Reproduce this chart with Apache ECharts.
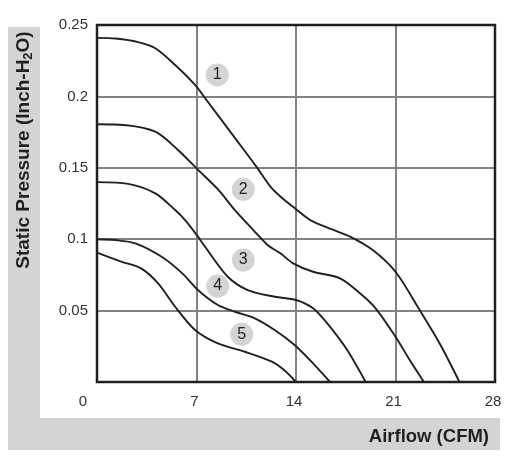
<!DOCTYPE html>
<html>
<head>
<meta charset="utf-8">
<script src="https://cdn.jsdelivr.net/npm/echarts@6/dist/echarts.min.js"></script>
<style>html,body{margin:0;padding:0;background:#fff;}#c{width:507px;height:464px;}</style>
</head>
<body>
<div id="c"></div>
<script>
// Tick labels
const xTickLabels = ['0', '7', '14', '21', '28'];
const yTickLabels = ['', '0.05', '0.1', '0.15', '0.2', '0.25'];

// Curves: [Airflow (CFM), Static Pressure (Inch-H2O)]
const curve1 = [[0,0.241],[1.3,0.2405],[2.9,0.238],[4.1,0.2337],[5.5,0.222],[6.9,0.208],[7.7,0.1975],[9.7,0.171],[11.2,0.151],[12.2,0.1368],[13.0,0.129],[14.0,0.121],[15.0,0.1134],[16.5,0.107],[17.8,0.1018],[19.4,0.0924],[21.0,0.0772],[22.7,0.0504],[24.1,0.0271],[25.5,0]];
const curve2 = [[0,0.1805],[1.9,0.18],[4.1,0.1753],[5.7,0.1625],[7.0,0.1496],[8.5,0.135],[9.7,0.1204],[11.0,0.1064],[12.0,0.096],[12.9,0.0901],[13.8,0.0831],[15.2,0.0772],[17.1,0.0726],[18.5,0.0621],[19.6,0.0516],[21.0,0.0317],[22.0,0.0154],[23.0,0]];
const curve3 = [[0,0.14],[2.2,0.1387],[4.1,0.1321],[5.5,0.1204],[6.2,0.1134],[7.1,0.1018],[7.6,0.0947],[9.2,0.0737],[10.6,0.0644],[12.5,0.0597],[14.0,0.0574],[15.2,0.0516],[16.2,0.041],[17.6,0.0224],[18.9,0]];
const curve4 = [[0,0.1],[1.3,0.0994],[2.7,0.0971],[4.55,0.0877],[6.0,0.0761],[7.1,0.0644],[8.5,0.0539],[9.7,0.0492],[11.1,0.0446],[12.5,0.0364],[13.9,0.0259],[15.2,0.0131],[16.4,0]];
const curve5 = [[0,0.0906],[1.7,0.0843],[3.1,0.0796],[4.3,0.0691],[5.5,0.0527],[6.9,0.0364],[8.5,0.027],[10.4,0.0212],[12.3,0.0142],[13.2,0.008],[14.0,0]];

// Curve number badges
const badgeNames = ['1', '2', '3', '4', '5'];
const badgePos = [[8.46,0.215],[10.29,0.1349],[10.29,0.0854],[8.49,0.0672],[10.18,0.0334]];

const curves = [curve1, curve2, curve3, curve4, curve5];
const FONT = '"Liberation Sans", Arial, sans-serif';

const chart = echarts.init(document.getElementById('c'), null, {renderer: 'canvas'});
const lineSeries = curves.map((d, i) => ({
  type: 'line', name: 'Curve ' + badgeNames[i], data: d, smooth: 0.3,
  showSymbol: false, symbol: 'none', z: 3,
  lineStyle: {color: '#231f20', width: 1.9}
}));

const option = {
  animation: false,
  backgroundColor: '#ffffff',
  graphic: [
    {type: 'rect', shape: {x: 8, y: 27, width: 32, height: 423}, style: {fill: '#d3d4d6'}, z: -10},
    {type: 'rect', shape: {x: 8, y: 418, width: 492, height: 32}, style: {fill: '#d3d4d6'}, z: -10},
    {type: 'text', x: 24, y: 150, rotation: Math.PI / 2,
      style: {text: 'Static Pressure (Inch-H{s|2}O)', font: 'bold 19px ' + FONT, fill: '#231f20',
        align: 'center', verticalAlign: 'middle',
        rich: {s: {font: 'bold 13px ' + FONT, fill: '#231f20', padding: [9, 0, 0, 0]}}}},
    {type: 'text', x: 489, y: 437,
      style: {text: 'Airflow (CFM)', font: 'bold 18.5px ' + FONT, fill: '#231f20',
        align: 'right', verticalAlign: 'middle'}}
  ],
  grid: {left: 97, top: 25, right: 12, bottom: 82, show: true, borderColor: '#231f20', borderWidth: 2.5, backgroundColor: 'transparent', z: 4},
  xAxis: {
    type: 'value', min: 0, max: 28, interval: 7,
    axisLine: {show: false}, axisTick: {show: false},
    splitLine: {show: true, showMinLine: false, showMaxLine: false, lineStyle: {color: '#808285', width: 2}},
    axisLabel: {
      margin: 12, color: '#333333', fontSize: 15, fontFamily: FONT,
      formatter: function (v, i) { return i === 0 ? '{z|' + xTickLabels[0] + '}' : '{n|' + xTickLabels[i] + '}'; },
      rich: {
        z: {fontSize: 15, color: '#333333', padding: [0, 28, 0, 0], fontFamily: FONT},
        n: {fontSize: 15, color: '#333333', padding: [0, 4, 0, 0], fontFamily: FONT}
      }
    }
  },
  yAxis: {
    type: 'value', min: 0, max: 0.25, interval: 0.05,
    axisLine: {show: false}, axisTick: {show: false},
    splitLine: {show: true, showMinLine: false, showMaxLine: false, lineStyle: {color: '#808285', width: 2}},
    axisLabel: {
      margin: 9, color: '#333333', fontSize: 15, fontFamily: FONT,
      formatter: function (v, i) { return yTickLabels[i]; }
    }
  },
  series: lineSeries.concat([{
    type: 'scatter', name: 'badges', z: 5,
    data: badgePos.map((p, i) => ({value: p, name: badgeNames[i]})),
    symbol: 'circle', symbolSize: 23,
    itemStyle: {color: '#d3d4d6', opacity: 1},
    label: {show: true, position: 'inside', formatter: '{b}', color: '#231f20', fontSize: 16, fontFamily: FONT,
      textBorderWidth: 0, textBorderColor: 'transparent', opacity: 1}
  }])
};
chart.setOption(option);
</script>
</body>
</html>
